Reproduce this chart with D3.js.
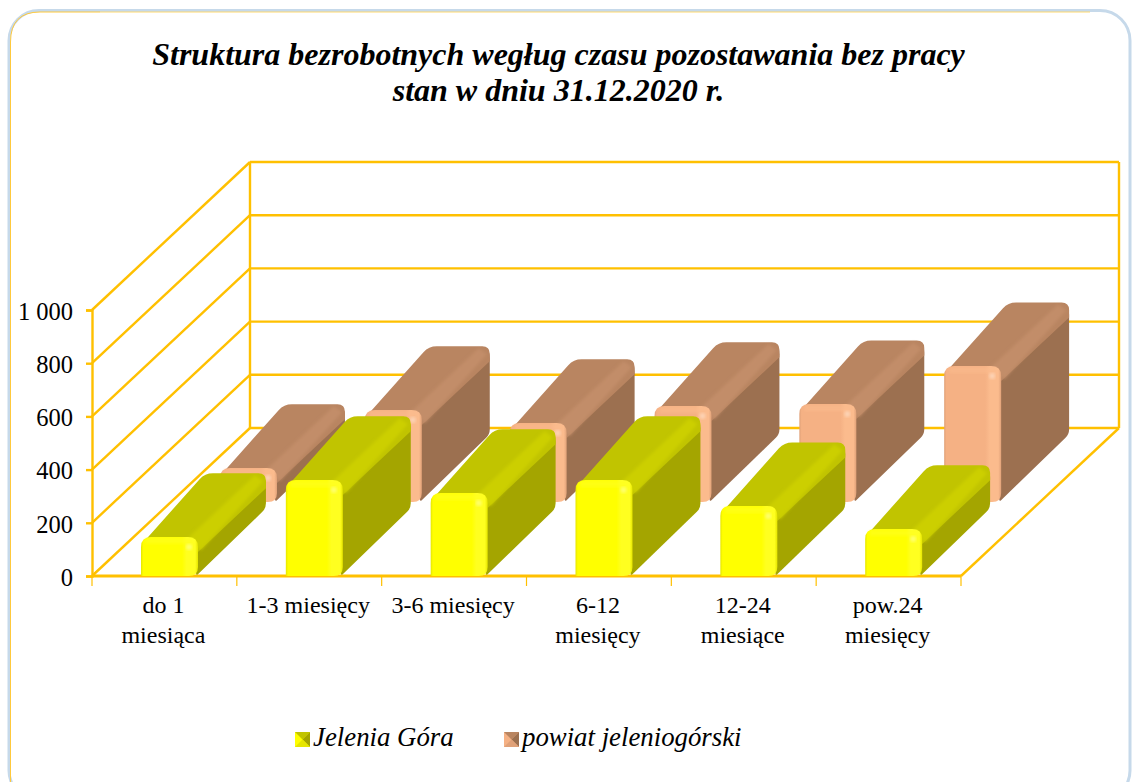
<!DOCTYPE html>
<html><head><meta charset="utf-8">
<script src="https://cdn.jsdelivr.net/npm/d3@7"></script>
<style>html,body{margin:0;padding:0;background:#fff}svg{display:block}text{font-family:"Liberation Serif","Times New Roman",serif;fill:#000}</style>
</head><body><div id="c"></div>
<script>
const categories=[["do 1","miesiąca"],["1-3 miesięcy"],["3-6 miesięcy"],["6-12","miesięcy"],["12-24","miesiące"],["pow.24","miesięcy"]];
const jeleniaGora=[147,361,312,361,263,177];
const powiat=[128,346,297,361,368,511];
const yTicks=[0,200,400,600,800,1000];
const titleLines=["Struktura bezrobotnych wegług czasu pozostawania bez pracy","stan w dniu 31.12.2020 r."];
const seriesNames=["Jelenia Góra","powiat jeleniogórski"];

const W=1132,H=782,svg=d3.select("#c").append("svg").attr("width",W).attr("height",H);
const defs=svg.append("defs");
const y=d3.scaleLinear().domain([0,1000]).range([576,310]);
const x=d3.scaleBand().domain(d3.range(6)).range([92,961]);
const zx=d3.scaleLinear().domain([0,1]).range([0,158]);
const zy=d3.scaleLinear().domain([0,1]).range([0,-148]);
const grid="#ffc000";

// panel
svg.append("rect").attr("x",9).attr("y",10.5).attr("width",1121).attr("height",790).attr("rx",30).attr("fill","#fff").attr("stroke","#c6d9ea").attr("stroke-width",3);
svg.append("path").attr("d","M10.5,790V42Q10.5,12 40,12H100").attr("fill","none").attr("stroke","#ffc93c").attr("stroke-width",1);
svg.append("path").attr("d","M100,12H1090").attr("fill","none").attr("stroke","#ffd970").attr("stroke-width",1);

// title
svg.selectAll("text.t").data(titleLines).join("text").attr("class","t").attr("x",558.5).attr("y",(d,i)=>65+i*36)
 .attr("text-anchor","middle").attr("font-size",32).attr("font-weight","bold").attr("font-style","italic").text(d=>d);

// walls
const W1=zx(1),H1=zy(1),g=svg.append("g").attr("fill","none").attr("stroke",grid).attr("stroke-width",2.4);
yTicks.forEach(v=>{
  g.append("line").attr("x1",92).attr("y1",y(v)).attr("x2",92+W1).attr("y2",y(v)+H1);
  g.append("line").attr("x1",92+W1).attr("y1",y(v)+H1).attr("x2",961+W1).attr("y2",y(v)+H1);
});
g.append("line").attr("x1",92+W1).attr("y1",y(0)+H1).attr("x2",92+W1).attr("y2",y(1000)+H1);
g.append("line").attr("x1",961+W1).attr("y1",y(0)+H1).attr("x2",961+W1).attr("y2",y(1000)+H1);
g.append("line").attr("x1",961).attr("y1",y(0)).attr("x2",961+W1).attr("y2",y(0)+H1);

// axes
const ay=svg.append("g").attr("transform","translate(92,0)").call(d3.axisLeft(y).tickValues(yTicks).tickSize(6).tickPadding(13).tickFormat(d=>d===1000?"1 000":d));
ay.selectAll("path,line").attr("stroke",grid).attr("stroke-width",2.4);
ay.selectAll("text").attr("font-size",24.5).attr("font-family","Liberation Serif").attr("dy","0.38em");
const ax=svg.append("g");
ax.append("line").attr("x1",92).attr("x2",961).attr("y1",576).attr("y2",576).attr("stroke",grid).attr("stroke-width",3);
d3.range(7).forEach(i=>{const px=92+i*x.step();ax.append("line").attr("x1",px).attr("x2",px).attr("y1",576).attr("y2",586).attr("stroke",grid).attr("stroke-width",1.2);});
categories.forEach((c,i)=>c.forEach((s,j)=>{
  svg.append("text").attr("x",x(i)+x.step()/2-1).attr("y",613+j*30).attr("text-anchor","middle").attr("font-size",24).text(s);
}));

// rounded polygon helper
function rp(pts,r){
  let d="";const n=pts.length;
  pts.forEach((p,i)=>{
    const a=pts[(i-1+n)%n],b=pts[(i+1)%n],ra=Array.isArray(r)?r[i]:r;
    const la=Math.hypot(a[0]-p[0],a[1]-p[1]),lb=Math.hypot(b[0]-p[0],b[1]-p[1]);
    const rr=Math.min(ra,la/2,lb/2);
    const s=[p[0]+(a[0]-p[0])*rr/la,p[1]+(a[1]-p[1])*rr/la],e=[p[0]+(b[0]-p[0])*rr/lb,p[1]+(b[1]-p[1])*rr/lb];
    d+=(i?"L":"M")+s[0]+","+s[1]+"Q"+p[0]+","+p[1]+" "+e[0]+","+e[1];
  });
  return d+"Z";
}
function hGrad(id,stops){
  const g=defs.append("linearGradient").attr("id",id).attr("x1",0).attr("y1",0).attr("x2",1).attr("y2",0);
  stops.forEach(s=>g.append("stop").attr("offset",s[0]).attr("stop-color",s[1]));
}
const pal=[
 {id:"a",front:"#ffff00",edge:"#e6e600",hi:"#ffff20",top:"#c1c400",topHi:"#cccf00",side:"#a4a500"},
 {id:"b",front:"#f5b184",edge:"#e0a178",hi:"#fbbb8d",top:"#b98561",topHi:"#c28d69",side:"#9c7050"}
];
pal.forEach(p=>{
 hGrad("fr"+p.id,[[0,p.edge],[.04,p.front],[.72,p.front],[.8,p.hi],[.95,p.hi],[1,p.edge]]);
 const f=defs.append("filter").attr("id","soft"+p.id);f.append("feGaussianBlur").attr("stdDeviation",1.6);
});
const barW=57, depth=.43;
function drawBars(vals,z0,p){
  const layer=svg.append("g").attr("class","bars-"+p.id);
  vals.forEach((v,i)=>{
    const X0=x(i)+49+zx(z0),X1=X0+barW,Yb=y(0)+zy(z0),Yt=y(v)+zy(z0);
    const dx=zx(depth),dy=zy(depth);
    const g=layer.append("g");
    // side
    g.append("path").attr("d",rp([[X1-2,Yt],[X1+dx,Yt+dy],[X1+dx,Yb+dy-4],[X1-2,Yb]],[0,12,5,3])).attr("fill",p.side);
    // top
    g.append("path").attr("d",rp([[X0,Yt+8],[X0+dx-4,Yt+dy],[X1+dx,Yt+dy],[X1+dx,Yt+dy+15],[X1,Yt+15],[X1-2,Yt]],[4,8,11,0,0,0])).attr("fill",p.top);
    // top highlight stripe
    g.append("path").attr("d",`M${X1-11},${Yt+2}L${X1-11+dx},${Yt+dy+2}L${X1+dx-3},${Yt+dy+8}L${X1+3},${Yt+13}Z`).attr("fill",p.topHi).attr("filter",`url(#soft${p.id})`);
    // front
    g.append("path").attr("d",rp([[X0,Yb],[X0,Yt],[X1,Yt],[X1,Yb]],[1,10,10,9])).attr("fill",`url(#fr${p.id})`);
    g.append("rect").attr("x",X0+5).attr("y",Yt+1).attr("width",barW-10).attr("height",6).attr("fill",p.hi).attr("opacity",.6).attr("filter",`url(#soft${p.id})`);
    g.append("circle").attr("cx",X1-9).attr("cy",Yt+10).attr("r",3).attr("fill","#fff").attr("opacity",.35).attr("filter",`url(#soft${p.id})`);
  });
}
drawBars(powiat,.5,pal[1]);
drawBars(jeleniaGora,0,pal[0]);

// legend
[[295,313],[504,522]].forEach((c,i)=>{
  const p=pal[i],sx=c[0],sy=732,s=15,g=svg.append("g");
  const cx=sx+s/2,cy=sy+s/2;
  g.append("rect").attr("x",sx).attr("y",sy).attr("width",s).attr("height",s).attr("fill",p.front);
  g.append("path").attr("d",`M${sx},${sy}L${sx+s},${sy}L${cx},${cy}Z`).attr("fill",p.top);
  g.append("path").attr("d",`M${sx+s},${sy}L${sx+s},${sy+s}L${cx},${cy}Z`).attr("fill",p.side);
  g.append("path").attr("d",`M${sx},${sy+s}L${sx+s},${sy+s}L${cx},${cy}Z`).attr("fill",p.edge);
  svg.append("text").attr("x",c[1]).attr("y",746).attr("font-size",26.8).attr("font-style","italic").text(seriesNames[i]);
});
</script></body></html>
